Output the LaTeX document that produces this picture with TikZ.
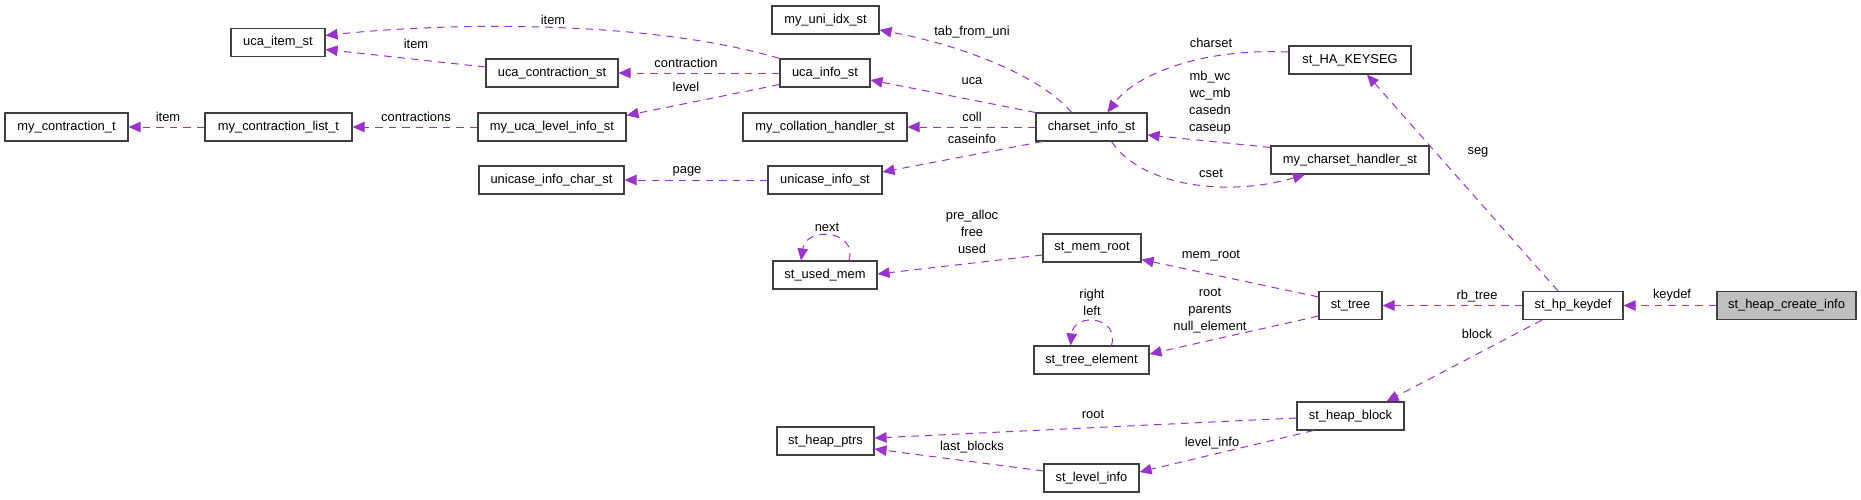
\documentclass[tikz,border=0pt]{standalone}
\usepackage{fontspec}
\setmainfont{Liberation Sans}
\usetikzlibrary{arrows.meta}
\definecolor{edgec}{HTML}{9A32CD}
\definecolor{boxc}{HTML}{404040}
\definecolor{rootfill}{HTML}{BFBFBF}
\begin{document}
\begin{tikzpicture}[x=1pt,y=-1pt,
  font=\fontsize{12.9}{17}\selectfont,
  cls/.style={draw=boxc, line width=1.1pt, minimum height=28pt, inner sep=0pt, fill=white},
  edge/.style={draw=edgec, line width=1pt, dash pattern=on 7.5pt off 6pt, -{Triangle[length=12pt,width=10.5pt]}},
  lbl/.style={inner sep=0pt, align=center}]
\useasboundingbox (0,0) rectangle (1861,499);
\fill[white] (0,0) rectangle (1861,499);

% nodes
\node[cls, minimum width=94pt]  (ucaitem)     at (278,42.5)   {uca\_item\_st};
\node[cls, minimum width=132pt] (ucacontr)    at (552,73)     {uca\_contraction\_st};
\node[cls, minimum width=123pt] (mycontr)     at (66.5,127)   {my\_contraction\_t};
\node[cls, minimum width=147pt] (mycontrlist) at (278.5,127)  {my\_contraction\_list\_t};
\node[cls, minimum width=148pt] (myucalevel)  at (552,127)    {my\_uca\_level\_info\_st};
\node[cls, minimum width=145pt] (unicasechar) at (551.5,180)  {unicase\_info\_char\_st};
\node[cls, minimum width=107pt] (myuniidx)    at (825.5,20)   {my\_uni\_idx\_st};
\node[cls, minimum width=90pt]  (ucainfo)     at (825,73)     {uca\_info\_st};
\node[cls, minimum width=164pt] (mycoll)      at (825,127)    {my\_collation\_handler\_st};
\node[cls, minimum width=114pt] (unicaseinfo) at (825,180)    {unicase\_info\_st};
\node[cls, minimum width=111pt] (charset)     at (1091.5,127) {charset\_info\_st};
\node[cls, minimum width=122pt] (hakeyseg)    at (1350,60)    {st\_HA\_KEYSEG};
\node[cls, minimum width=158pt] (mycshandler) at (1350,160)   {my\_charset\_handler\_st};
\node[cls, minimum width=104pt] (usedmem)     at (825,275)    {st\_used\_mem};
\node[cls, minimum width=98pt]  (memroot)     at (1092,248)   {st\_mem\_root};
\node[cls, minimum width=115pt] (treeelem)    at (1091.5,360) {st\_tree\_element};
\node[cls, minimum width=97pt]  (heapptrs)    at (825.5,441)  {st\_heap\_ptrs};
\node[cls, minimum width=95pt]  (levelinfo)   at (1091.5,478) {st\_level\_info};
\node[cls, minimum width=63pt]  (sttree)      at (1350.5,305.5) {st\_tree};
\node[cls, minimum width=100pt] (hpkeydef)    at (1573,305.5) {st\_hp\_keydef};
\node[cls, minimum width=139pt, fill=rootfill] (createinfo) at (1786.5,305.5) {st\_heap\_create\_info};
\node[cls, minimum width=107pt] (heapblock)   at (1350.5,416) {st\_heap\_block};

% edges
\draw[edge] (ucainfo.north west) .. controls (650,20) and (450,22) .. ([yshift=7]ucaitem.east);
\draw[edge] ([yshift=6]ucacontr.west) -- ([yshift=-7]ucaitem.east);
\draw[edge] (ucainfo.west) -- (ucacontr.east);
\draw[edge] ([yshift=3]ucainfo.south west) -- ([yshift=-3]myucalevel.north east);
\draw[edge] (myucalevel.west) -- (mycontrlist.east);
\draw[edge] (mycontrlist.west) -- (mycontr.east);
\draw[edge] ([xshift=-20]charset.north) .. controls (1040,75) and (960,45) .. ([yshift=-10]myuniidx.east);
\draw[edge] (charset.north west) -- ([yshift=-7]ucainfo.east);
\draw[edge] (charset.west) -- (mycoll.east);
\draw[edge] ([xshift=7]charset.south west) -- ([yshift=8]unicaseinfo.east);
\draw[edge] (unicaseinfo.west) -- (unicasechar.east);
\draw[edge] ([yshift=8]hakeyseg.west) .. controls (1200,48) and (1135,75) .. ([xshift=16]charset.north);
\draw[edge] ([yshift=-2]mycshandler.north west) -- ([yshift=-8]charset.east);
\draw[edge] ([xshift=20]charset.south) .. controls (1140,185) and (1225,198) .. ([xshift=-45]mycshandler.south);
\draw[edge] ([xshift=24]usedmem.north) .. controls (858,230) and (806,226) .. ([xshift=-24]usedmem.north);
\draw[edge] ([yshift=-7]memroot.west) -- ([yshift=1]usedmem.east);
\draw[edge] ([yshift=-6]sttree.north west) -- ([yshift=3]memroot.south east);
\draw[edge] ([yshift=4]sttree.south west) -- ([yshift=6]treeelem.east);
\draw[edge] ([xshift=20]treeelem.north) .. controls (1120,316) and (1074,312) .. ([xshift=-21]treeelem.north);
\draw[edge] (hpkeydef.west) -- (sttree.east);
\draw[edge] ([xshift=-15]hpkeydef.north) -- ([xshift=17]hakeyseg.south);
\draw[edge] ([xshift=-31]hpkeydef.south) -- ([xshift=36]heapblock.north);
\draw[edge] (createinfo.west) -- (hpkeydef.east);
\draw[edge] ([yshift=-2]heapblock.west) -- ([yshift=3]heapptrs.east);
\draw[edge] ([xshift=-37]heapblock.south) -- ([yshift=6]levelinfo.east);
\draw[edge] ([yshift=7]levelinfo.west) -- ([yshift=-8]heapptrs.east);

% labels
\node[lbl] (l1)  at (553,20)   {item};
\node[lbl] (l2)  at (416,44)   {item};
\node[lbl] (l3)  at (686,63)   {contraction};
\node[lbl] (l4)  at (686,87)   {level};
\node[lbl] (l5)  at (416,117)  {contractions};
\node[lbl] (l6)  at (168,117)  {item};
\node[lbl] (l7)  at (972,32)   {tab\_from\_uni};
\node[lbl] (l8)  at (972,81)   {uca};
\node[lbl] (l9)  at (972,117)  {coll};
\node[lbl] (l10) at (972,139)  {caseinfo};
\node[lbl] (l11) at (687,171)  {page};
\node[lbl] (l12) at (1211,43)  {charset};
\node[lbl] (l13) at (1210,102.5) {mb\_wc\\wc\_mb\\casedn\\caseup};
\node[lbl] (l14) at (1211,173) {cset};
\node[lbl] (l15) at (972,232)  {pre\_alloc\\free\\used};
\node[lbl] (l16) at (827,227)  {next};
\node[lbl] (l17) at (1211,256) {mem\_root};
\node[lbl] (l18) at (1210,310.5) {root\\parents\\null\_element};
\node[lbl] (l19) at (1092,302.5) {right\\left};
\node[lbl] (l20) at (1093,414) {root};
\node[lbl] (l21) at (972,447)  {last\_blocks};
\node[lbl] (l22) at (1212,443) {level\_info};
\node[lbl] (l23) at (1477,296) {rb\_tree};
\node[lbl] (l24) at (1477,334) {block};
\node[lbl] (l25) at (1672,295) {keydef};
\node[lbl] (l26) at (1478,152) {seg};
\end{tikzpicture}
\end{document}
